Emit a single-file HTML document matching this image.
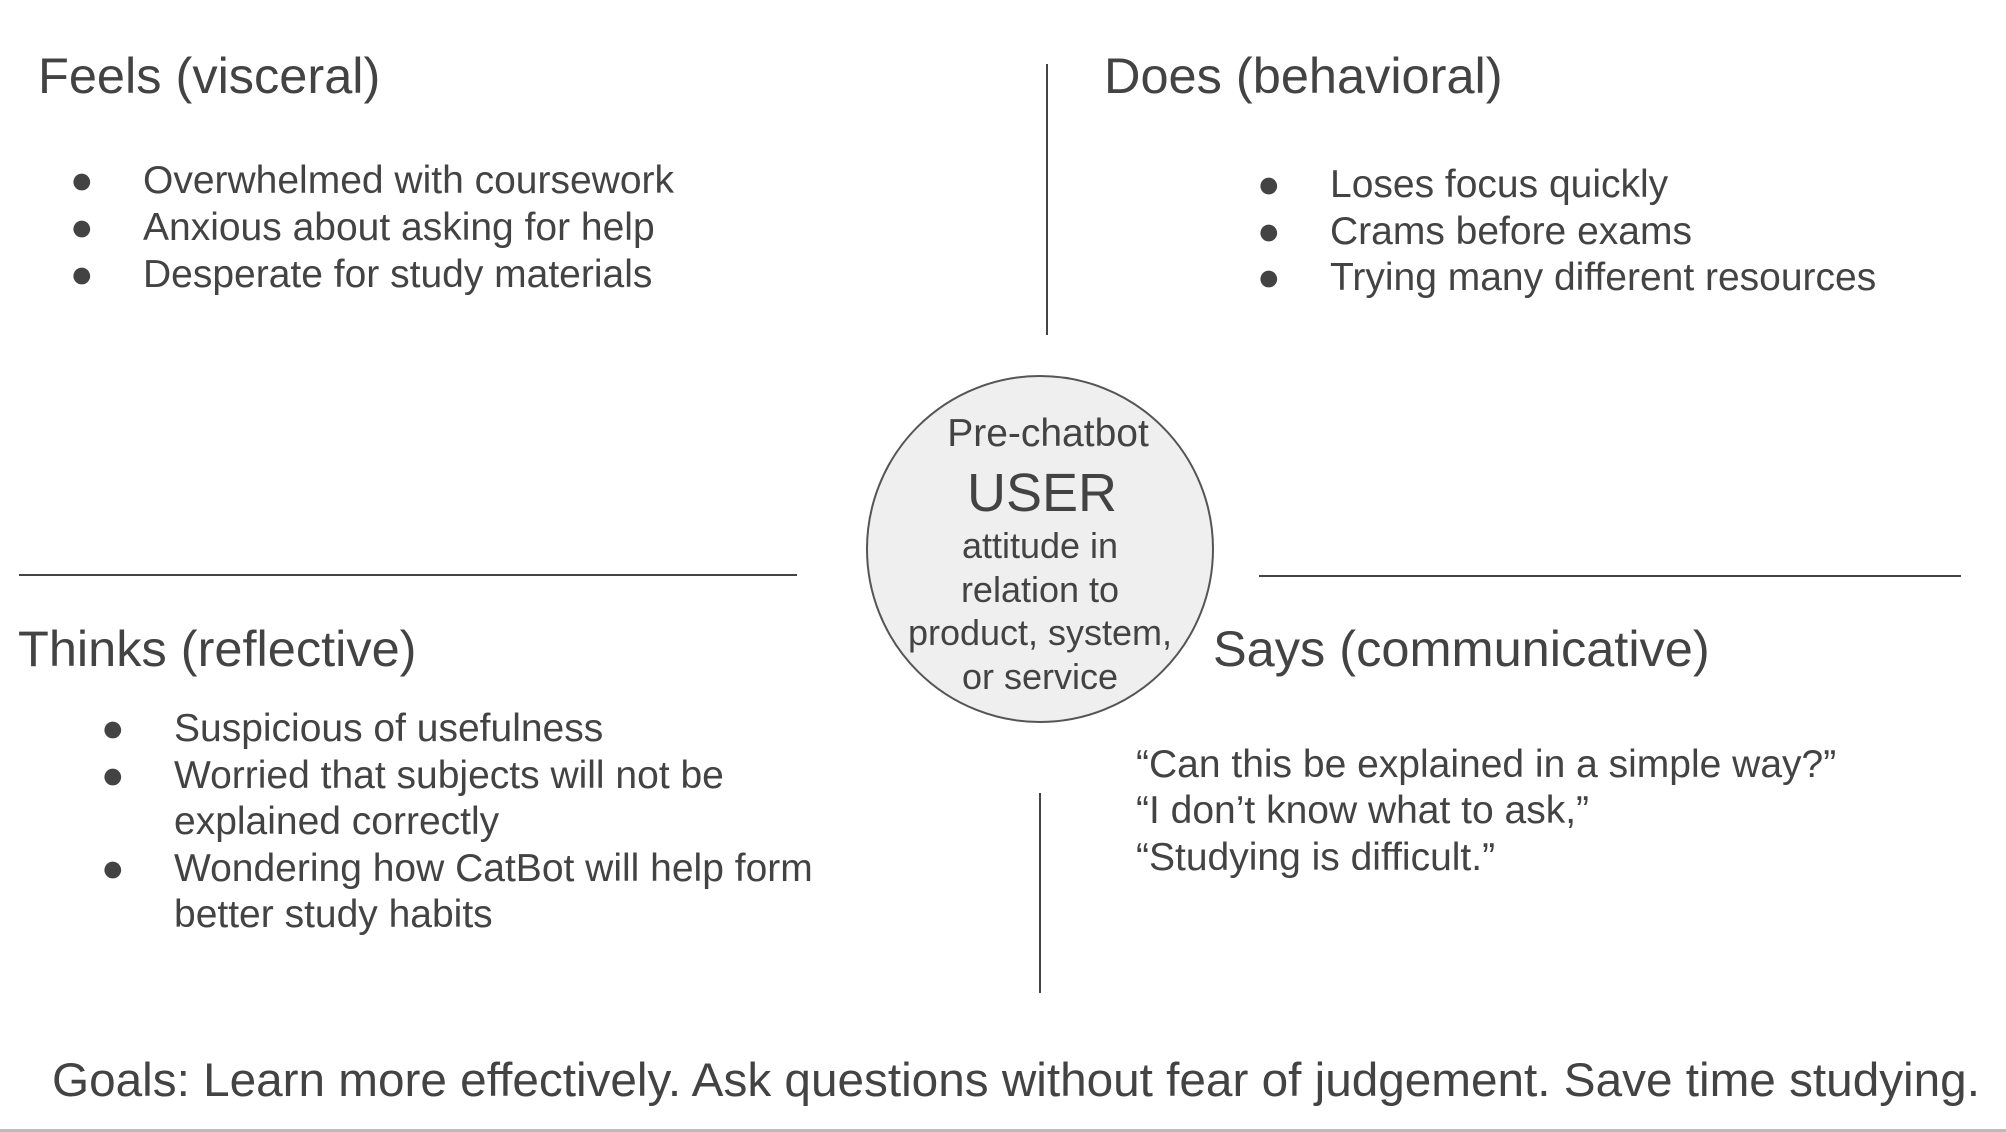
<!DOCTYPE html>
<html><head><meta charset="utf-8"><style>
html,body{margin:0;padding:0;}
body{width:2006px;height:1132px;position:relative;background:#fff;overflow:hidden;font-family:"Liberation Sans",Arial,sans-serif;color:#434343;}
.t{position:absolute;white-space:nowrap;line-height:1;}
.h{font-size:50.5px;}
.b{font-size:39px;}
.c{position:absolute;font-size:36px;line-height:1;text-align:center;width:400px;left:840px;}
.l{position:absolute;background:#444;}
</style></head><body>
<div class="t h" style="left:38px;top:51px">Feels (visceral)</div>
<div class="t b" style="left:70px;top:161px">●</div><div class="t b" style="left:143px;top:161px">Overwhelmed with coursework</div>
<div class="t b" style="left:70px;top:208px">●</div><div class="t b" style="left:143px;top:208px">Anxious about asking for help</div>
<div class="t b" style="left:70px;top:255px">●</div><div class="t b" style="left:143px;top:255px">Desperate for study materials</div>

<div class="l" style="left:1046px;top:64px;width:2px;height:271px"></div>

<div class="t h" style="left:1104px;top:51px">Does (behavioral)</div>
<div class="t b" style="left:1257px;top:165px">●</div><div class="t b" style="left:1330px;top:165px">Loses focus quickly</div>
<div class="t b" style="left:1257px;top:212px">●</div><div class="t b" style="left:1330px;top:212px">Crams before exams</div>
<div class="t b" style="left:1257px;top:258px">●</div><div class="t b" style="left:1330px;top:258px">Trying many different resources</div>

<div class="l" style="left:19px;top:574px;width:778px;height:2px"></div>
<div class="l" style="left:1259px;top:575px;width:702px;height:2px"></div>

<svg style="position:absolute;left:0;top:0" width="2006" height="1132"><circle cx="1040" cy="549" r="173" fill="#efefef" stroke="#555" stroke-width="2"/></svg>
<div class="c" style="top:414px;left:848px;font-size:39px">Pre-chatbot</div>
<div class="c" style="top:466px;font-size:54px;left:842px">USER</div>
<div class="c" style="top:528px;left:840px">attitude in</div>
<div class="c" style="top:572px">relation to</div>
<div class="c" style="top:615px;left:840px">product, system,</div>
<div class="c" style="top:659px">or service</div>

<div class="t h" style="left:18px;top:624px">Thinks (reflective)</div>
<div class="t b" style="left:101px;top:709px">●</div><div class="t b" style="left:174px;top:709px">Suspicious of usefulness</div>
<div class="t b" style="left:101px;top:756px">●</div><div class="t b" style="left:174px;top:756px">Worried that subjects will not be</div>
<div class="t b" style="left:174px;top:802px">explained correctly</div>
<div class="t b" style="left:101px;top:849px">●</div><div class="t b" style="left:174px;top:849px">Wondering how CatBot will help form</div>
<div class="t b" style="left:174px;top:895px">better study habits</div>

<div class="t h" style="left:1213px;top:624px">Says (communicative)</div>
<div class="t b" style="left:1136px;top:745px">“Can this be explained in a simple way?”</div>
<div class="t b" style="left:1136px;top:791px">“I don’t know what to ask,”</div>
<div class="t b" style="left:1136px;top:838px">“Studying is difficult.”</div>

<div class="l" style="left:1039px;top:793px;width:2px;height:200px"></div>

<div class="t" style="left:52px;top:1057px;font-size:47.7px">Goals: Learn more effectively. Ask questions without fear of judgement. Save time studying.</div>
<div class="l" style="left:0;top:1129px;width:2006px;height:3px;background:#bbb"></div>
</body></html>
